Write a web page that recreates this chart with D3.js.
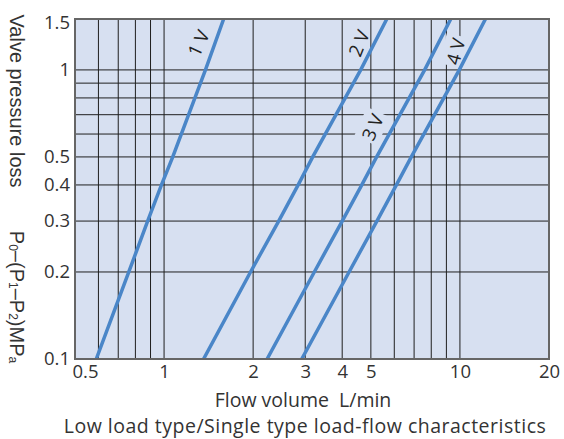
<!DOCTYPE html>
<html>
<head>
<meta charset="utf-8">
<script src="https://cdn.jsdelivr.net/npm/d3@7"></script>
<style>
  html, body { margin: 0; padding: 0; background: #ffffff; }
  svg { display: block; }
</style>
</head>
<body>
<script>
// ---------------- data ----------------
const xTickValues = [0.5, 1, 2, 3, 4, 5, 10, 20];
const xGridValues = [0.6, 0.7, 0.8, 0.9, 1, 2, 3, 4, 5, 6, 7, 8, 9, 10];
const yTickValues = [0.1, 0.2, 0.3, 0.4, 0.5, 1, 1.5];
const yGridValues = [0.2, 0.3, 0.4, 0.5, 0.6, 0.7, 0.8, 0.9, 1];

const pressures = [0.1, 0.2, 0.3, 0.4, 0.5, 1, 1.5];           // MPa
const flow1V = [0.59, 0.76, 0.88, 0.98, 1.07, 1.38, 1.59];       // L/min
const flow2V = [1.36, 1.96, 2.44, 2.84, 3.18, 4.62, 5.66];
const flow3V = [2.23, 3.22, 4.00, 4.66, 5.23, 7.60, 9.31];
const flow4V = [2.92, 4.22, 5.24, 6.10, 6.85, 9.95, 12.2];

const seriesNames = ["1 V", "2 V", "3 V", "4 V"];
const seriesFlows = [flow1V, flow2V, flow3V, flow4V];

const labelFlow = [1.30, 4.53, 5.04, 9.62];
const labelPressure = [1.24, 1.24, 0.635, 1.16];
const labelAngle = [-65, -68, -66, -75];
const labelBoxed = [false, false, true, true];

const xTitle = "Flow volume  L/min";
const chartTitle = "Low load type/Single type load-flow characteristics";
const yTitle1 = "Valve pressure loss";

// ---------------- layout ----------------
(function () {
const W = 564, H = 439;
const pLeft = 75, pRight = 549, pTop = 19, pBottom = 359;
const plotBg = "#d7e0f1";
const lineColor = "#4a86c8";
const gridColor = "#1f1f1f";
const textColor = "#333333";
const tickFont = "'Open Sans', 'Noto Sans', sans-serif";

const x = d3.scaleLog().domain([0.5, 20]).range([pLeft, pRight]);
const y = d3.scaleLog().domain([0.1, 1.5]).range([pBottom, pTop]);

const svg = d3.select("body").append("svg").attr("width", W).attr("height", H);

svg.append("defs").append("clipPath").attr("id", "plotclip")
  .append("rect").attr("x", pLeft).attr("y", pTop)
  .attr("width", pRight - pLeft).attr("height", pBottom - pTop);

svg.append("rect").attr("x", pLeft).attr("y", pTop)
  .attr("width", pRight - pLeft).attr("height", pBottom - pTop)
  .attr("fill", plotBg);

const grid = svg.append("g");
grid.selectAll("line.v").data(xGridValues).join("line")
  .attr("class", "v")
  .attr("x1", d => x(d)).attr("x2", d => x(d))
  .attr("y1", pTop).attr("y2", pBottom)
  .attr("stroke", gridColor).attr("stroke-width", 1);
grid.selectAll("line.h").data(yGridValues).join("line")
  .attr("class", "h")
  .attr("x1", pLeft).attr("x2", pRight)
  .attr("y1", d => y(d)).attr("y2", d => y(d))
  .attr("stroke", gridColor).attr("stroke-width", 1);

const bgLayer = svg.append("g");
const lineLayer = svg.append("g").attr("clip-path", "url(#plotclip)");
const textLayer = svg.append("g");

const lineGen = d3.line().x(d => x(d[0])).y(d => y(d[1]));
seriesFlows.forEach((flows) => {
  const pts = flows.map((f, i) => [f, pressures[i]]);
  lineLayer.append("path").attr("d", lineGen(pts))
    .attr("fill", "none").attr("stroke", lineColor)
    .attr("stroke-width", 3.5);
});

seriesNames.forEach((name, i) => {
  const tx = x(labelFlow[i]), ty = y(labelPressure[i]);
  const tr = `translate(${tx},${ty}) rotate(${labelAngle[i]})`;
  const t = textLayer.append("text")
    .attr("transform", tr)
    .attr("text-anchor", "middle")
    .attr("dominant-baseline", "central")
    .attr("font-family", tickFont)
    .attr("font-size", 18.5)
    .attr("fill", "#222")
    .style("white-space", "pre")
    .text(name);
  if (labelBoxed[i]) {
    const bb = t.node().getBBox();
    bgLayer.append("rect")
      .attr("transform", tr)
      .attr("x", bb.x - 2).attr("y", bb.y)
      .attr("width", bb.width + 4).attr("height", bb.height)
      .attr("fill", plotBg);
  }
});

svg.append("rect").attr("x", pLeft).attr("y", pTop)
  .attr("width", pRight - pLeft).attr("height", pBottom - pTop)
  .attr("fill", "none").attr("stroke", "#666").attr("stroke-width", 2);

const xAxis = svg.append("g").attr("transform", `translate(0,${pBottom})`)
  .call(d3.axisBottom(x).tickValues(xTickValues).tickSize(0).tickPadding(6)
    .tickFormat(d => String(d)));
xAxis.select(".domain").remove();
xAxis.selectAll("text")
  .attr("font-family", tickFont).attr("font-size", 18.5).attr("fill", textColor);
xAxis.selectAll(".tick").filter(d => d === xTickValues[0]).select("text")
  .attr("text-anchor", "start").attr("dx", -3);

const yAxis = svg.append("g").attr("transform", `translate(${pLeft},0)`)
  .call(d3.axisLeft(y).tickValues(yTickValues).tickSize(0).tickPadding(5)
    .tickFormat(d => String(d)));
yAxis.select(".domain").remove();
yAxis.selectAll("text")
  .attr("font-family", tickFont).attr("font-size", 18.5).attr("fill", textColor);
yAxis.selectAll(".tick").filter(d => d === yTickValues[yTickValues.length - 1]).select("text")
  .attr("dy", "0.5em");

svg.append("text")
  .attr("transform", `translate(10,101) rotate(90)`)
  .attr("text-anchor", "middle")
  .attr("font-family", "'Liberation Sans', Arial, sans-serif")
  .attr("font-size", 20).attr("fill", textColor)
  .text(yTitle1);

const yT2 = svg.append("text")
  .attr("transform", `translate(10,297) rotate(90)`)
  .attr("text-anchor", "middle")
  .attr("font-family", "'Liberation Sans', Arial, sans-serif")
  .attr("font-size", 20).attr("fill", textColor);
const parts = [["P", false], ["0", true], ["–(P", false], ["1", true], ["–P", false], ["2", true], [")MP", false], ["a", true]];
parts.forEach(([s, sub], i) => {
  const prevSub = i > 0 && parts[i - 1][1];
  yT2.append("tspan")
    .attr("font-size", sub ? 12 : 20)
    .attr("dy", sub ? 1 : (prevSub ? -1 : 0))
    .text(s);
});

svg.append("text")
  .attr("x", 303).attr("y", 406.5)
  .attr("text-anchor", "middle")
  .attr("font-family", tickFont).attr("font-size", 19.5).attr("fill", textColor)
  .style("white-space", "pre")
  .text(xTitle);

svg.append("text")
  .attr("x", 305).attr("y", 433)
  .attr("text-anchor", "middle")
  .attr("font-family", tickFont).attr("font-size", 19.5).attr("fill", textColor)
  .attr("letter-spacing", 0.5)
  .text(chartTitle);
})();
</script>
</body>
</html>
